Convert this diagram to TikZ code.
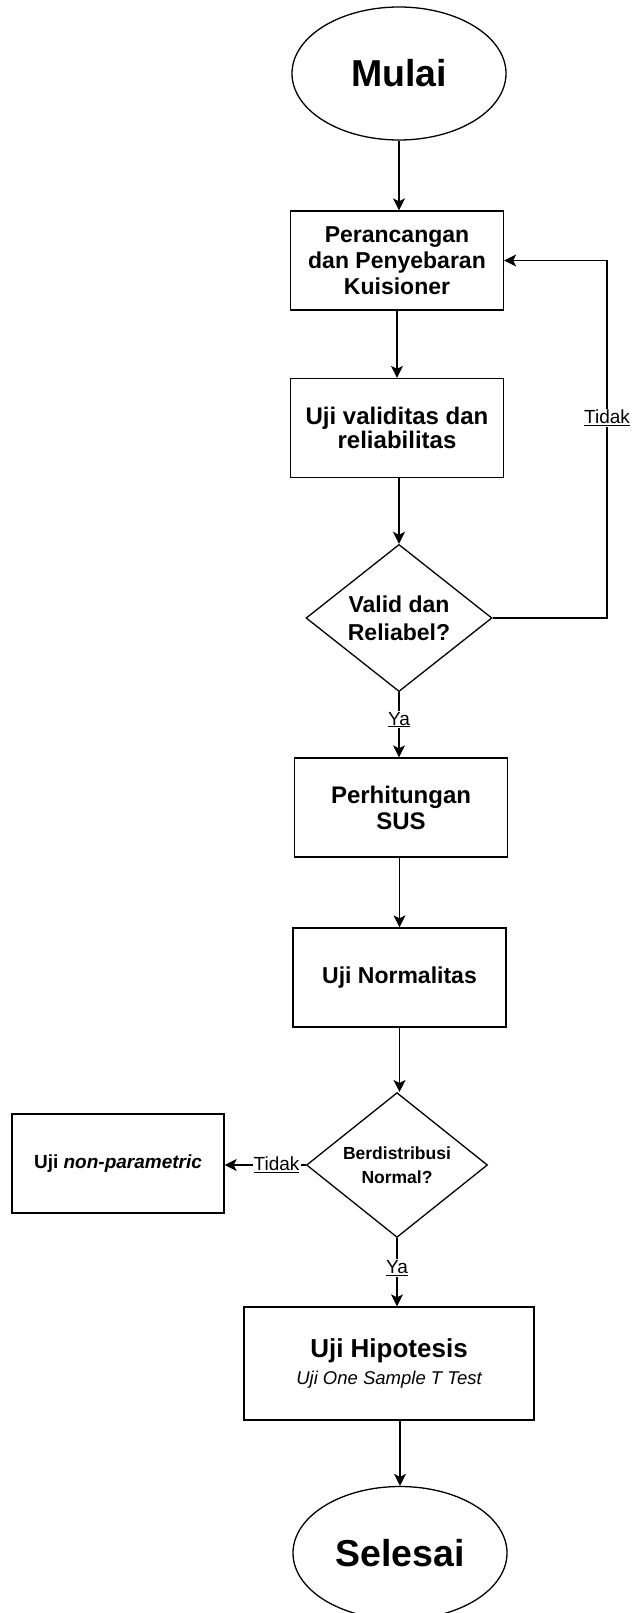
\documentclass[tikz,border=0pt]{standalone}
\usepackage{fontspec}
\setmainfont{Liberation Sans}
\usetikzlibrary{shapes.geometric,arrows.meta}

\begin{document}
\begin{tikzpicture}[x=1pt,y=-1pt,
		terminal/.style={draw,ellipse,line width=1.3pt,minimum width=214pt,minimum height=133pt,inner sep=0pt,font=\fontsize{37.5}{42}\selectfont\bfseries},
		proses/.style={draw,rectangle,line width=1.3pt,minimum width=213pt,minimum height=99pt,inner sep=2pt,align=center,font=\fontsize{23}{26}\selectfont\bfseries},
		keputusan/.style={draw,diamond,line width=1.3pt,minimum width=186pt,minimum height=146pt,inner sep=0pt,align=center,font=\fontsize{23}{28}\selectfont\bfseries},
		panah/.style={-{Stealth[length=12pt,width=12pt,inset=3pt]},line width=1.3pt},
		ket/.style={fill=white,inner sep=1pt,font=\fontsize{19}{22}\selectfont}]
			\useasboundingbox (0,0) rectangle (635,1613);
			% alur utama
			\node[terminal] (mulai) at (399,73.5) {Mulai};
			\node[proses] (kuisioner) at (397,260.5) {Perancangan\\dan Penyebaran\\Kuisioner};
			\node[proses,font=\fontsize{24}{24}\selectfont\bfseries] (uji) at (397,428) {Uji validitas dan\\reliabilitas};
			\node[keputusan] (valid) at (399,618) {Valid dan\\Reliabel?};
			\node[proses,font=\fontsize{24}{26}\selectfont\bfseries] (sus) at (401,807.5) {Perhitungan\\SUS};
			\node[proses] (normalitas) at (399.5,977.5) {Uji Normalitas};
			\node[keputusan,minimum width=181pt,minimum height=144pt,font=\fontsize{17.5}{24}\selectfont\bfseries] (normal) at (397,1165) {Berdistribusi\\Normal?};
			\node[proses,minimum width=212pt,font=\fontsize{19}{22}\selectfont\bfseries] (nonpar) at (118,1163.5) {Uji \textit{non-parametric}};
			\node[proses,minimum width=290pt,minimum height=113pt,font=\fontsize{26}{28}\selectfont\bfseries] (hipotesis) at (389,1363.5) {Uji Hipotesis\\[-1pt]{\fontsize{18.5}{21}\selectfont\mdseries\itshape Uji One Sample T Test}};
			\node[terminal] (selesai) at (400,1553) {Selesai};
			\coordinate (balik) at (607,618);
			% panah
			\draw[panah] (mulai.south) -- (mulai.south |- kuisioner.north);
			\draw[panah] (kuisioner) -- (uji);
			\draw[panah] (uji.south -| valid.north) -- (valid.north);
			\draw[panah] (valid.east) -- (balik) |- node[ket,pos=0.28] {\underline{Tidak}} (kuisioner.east);
			\draw[panah] (valid.south) -- node[ket,pos=0.42] {\underline{Ya}} (valid.south |- sus.north);
			\draw[panah] (sus.south -| normalitas.south) -- (normalitas.north);
			\draw[panah] (normalitas.south) -- (normalitas.south |- normal.north);
			\draw[panah] (normal.west) -- node[ket,pos=0.36] {\underline{Tidak}} (normal.west -| nonpar.east);
			\draw[panah] (normal.south) -- node[ket,pos=0.44] {\underline{Ya}} (normal.south |- hipotesis.north);
			\draw[panah] (hipotesis.south -| selesai.north) -- (selesai.north);
		\end{tikzpicture}
\end{document}
